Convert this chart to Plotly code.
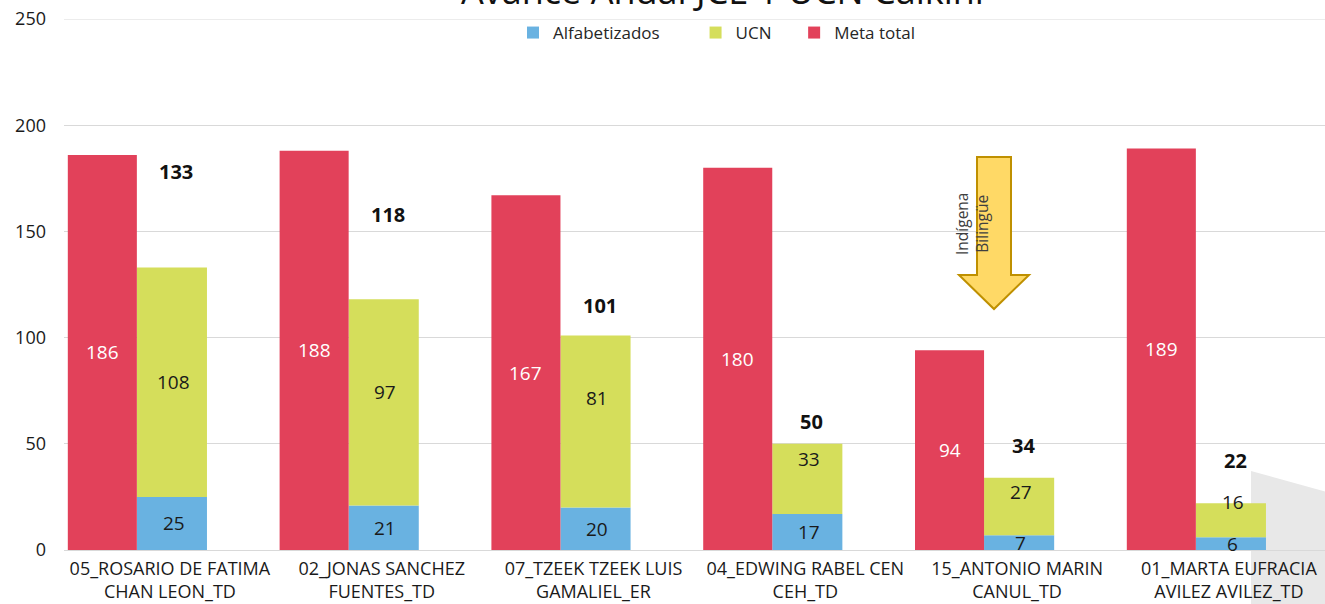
import plotly.graph_objects as go

categories = [
    "05_ROSARIO DE FATIMA<br>CHAN LEON_TD",
    "02_JONAS SANCHEZ<br>FUENTES_TD",
    "07_TZEEK TZEEK LUIS<br>GAMALIEL_ER",
    "04_EDWING RABEL CEN<br>CEH_TD",
    "15_ANTONIO MARIN<br>CANUL_TD",
    "01_MARTA EUFRACIA<br>AVILEZ AVILEZ_TD",
]
alfabetizados = [25, 21, 20, 17, 7, 6]
ucn = [108, 97, 81, 33, 27, 16]
meta_total = [186, 188, 167, 180, 94, 189]
totals = [a + u for a, u in zip(alfabetizados, ucn)]

# ---- layout constants (reference pixel coordinates) ----
W, H = 1325, 604
ML, MT, MR = 64, 19, 0
MB = H - 550
PW = W - ML - MR
PH = H - MT - MB
FONT = "Open Sans"
C_RED = "#E2415A"
C_YEL = "#D5DE5B"
C_BLU = "#69B2E1"
TXT = "#262626"

RED_OFF, RED_W = -0.482, 0.326
STK_OFF, STK_W = -0.156, 0.331
CAT_PX = 211.8

def paper(px, py):
    return (px - ML) / PW, (H - MB - py) / PH

fig = go.Figure()
fig.add_trace(go.Bar(
    name="Alfabetizados" + "\u00a0" * 7, x=categories, y=alfabetizados, base=[0] * 6,
    offset=STK_OFF, width=STK_W, marker=dict(color=C_BLU, line=dict(width=0)),
))
fig.add_trace(go.Bar(
    name="UCN" + "\u00a0" * 4, x=categories, y=ucn, base=alfabetizados,
    offset=STK_OFF, width=STK_W, marker=dict(color=C_YEL, line=dict(width=0)),
))
fig.add_trace(go.Bar(
    name="Meta total", x=categories, y=meta_total,
    offset=RED_OFF, width=RED_W, marker=dict(color=C_RED, line=dict(width=0)),
))

# label nudges (data units) as positioned in the original
ucn_label_nudge = [0, 4.7, 11.3, 9.2, 7, 8.6]
total_label_gap = [45, 40, 14, 10.3, 15, 20]

ann = []
for i, c in enumerate(categories):
    xr = i + RED_OFF + RED_W / 2
    xs = i + STK_OFF + STK_W / 2 + 0.008
    ann.append(dict(x=xr, y=meta_total[i] / 2, xref="x", yref="y", text=str(meta_total[i]),
                    showarrow=False, font=dict(family=FONT, size=19, color="white")))
    ann.append(dict(x=xs, y=alfabetizados[i] / 2, xref="x", yref="y", text=str(alfabetizados[i]),
                    showarrow=False, font=dict(family=FONT, size=19, color="#1a1a1a")))
    ann.append(dict(x=xs, y=alfabetizados[i] + ucn[i] / 2 + ucn_label_nudge[i], xref="x", yref="y",
                    text=str(ucn[i]), showarrow=False,
                    font=dict(family=FONT, size=19, color="#1a1a1a")))
    ann.append(dict(x=i + STK_OFF + STK_W / 2 + 0.02, y=totals[i] + total_label_gap[i],
                    xref="x", yref="y", text="<b>%d</b>" % totals[i], showarrow=False,
                    font=dict(family=FONT, size=20, color="#111111")))

# title (cut off at the top, as in the original)
tx, ty = paper(723, 17)
ann.append(dict(x=tx, y=ty, xref="paper", yref="paper", yanchor="bottom", xanchor="center",
                text="Avance Anual JCE 1 UCN Calkiní", showarrow=False,
                font=dict(family=FONT, size=36, color="#111111")))

# arrow text
ax, ay = paper(995, 224)
ann.append(dict(x=ax, y=ay, xref="paper", yref="paper", text="Indígena<br>Bilingüe",
                textangle=-90, showarrow=False,
                font=dict(family=FONT, size=15.5, color="#404040")))

# arrow shape
pts = [(977, 157), (1011, 157), (1011, 275), (1029, 275), (994, 309), (959, 275), (977, 275)]
path = "M " + " L ".join("%f,%f" % paper(*p) for p in pts) + " Z"
# gray shadow shape bottom right
gpts = [(1251, 471), (1330, 493), (1330, 610), (1251, 610)]
gpath = "M " + " L ".join("%f,%f" % paper(*p) for p in gpts) + " Z"

lx, _ = paper(513, 0)
_, ly = paper(0, 33)

fig.update_layout(
    width=W, height=H,
    margin=dict(l=ML, r=MR, t=MT, b=MB, autoexpand=False),
    paper_bgcolor="white", plot_bgcolor="white",
    barmode="overlay",
    font=dict(family=FONT, size=16, color=TXT),
    showlegend=True,
    legend=dict(orientation="h", x=lx, xanchor="left", y=ly, yanchor="middle",
                traceorder="normal", font=dict(family=FONT, size=17, color=TXT),
                itemwidth=30, bgcolor="rgba(0,0,0,0)"),
    xaxis=dict(range=[-0.5, -0.5 + PW / CAT_PX], showgrid=False, showline=False, ticks="",
               ticklabelstandoff=6, automargin=False,
               tickfont=dict(family=FONT, size=18, color="#1a1a1a")),
    yaxis=dict(range=[0, 250], dtick=50, showgrid=True, gridcolor="#D9D9D9", gridwidth=1,
               zeroline=True, zerolinecolor="#D9D9D9", zerolinewidth=1, showline=False,
               ticks="", ticklabelstandoff=17, automargin=False, ticklabeloverflow="allow",
               tickfont=dict(family=FONT, size=18, color="#1a1a1a")),
    annotations=ann,
    shapes=[
        dict(type="path", path=gpath, xref="paper", yref="paper", fillcolor="#E8E8E8",
             line=dict(width=0), layer="below"),
        dict(type="line", xref="paper", yref="y", x0=0, x1=1, y0=250, y1=250,
             line=dict(color="#D9D9D9", width=1), layer="below"),
        dict(type="path", path=path, xref="paper", yref="paper", fillcolor="#FFD966",
             line=dict(color="#BF9000", width=2), layer="above"),
    ],
)

fig.write_html("out.html", config={"displayModeBar": False},
               post_script="document.body.style.margin='0';")
